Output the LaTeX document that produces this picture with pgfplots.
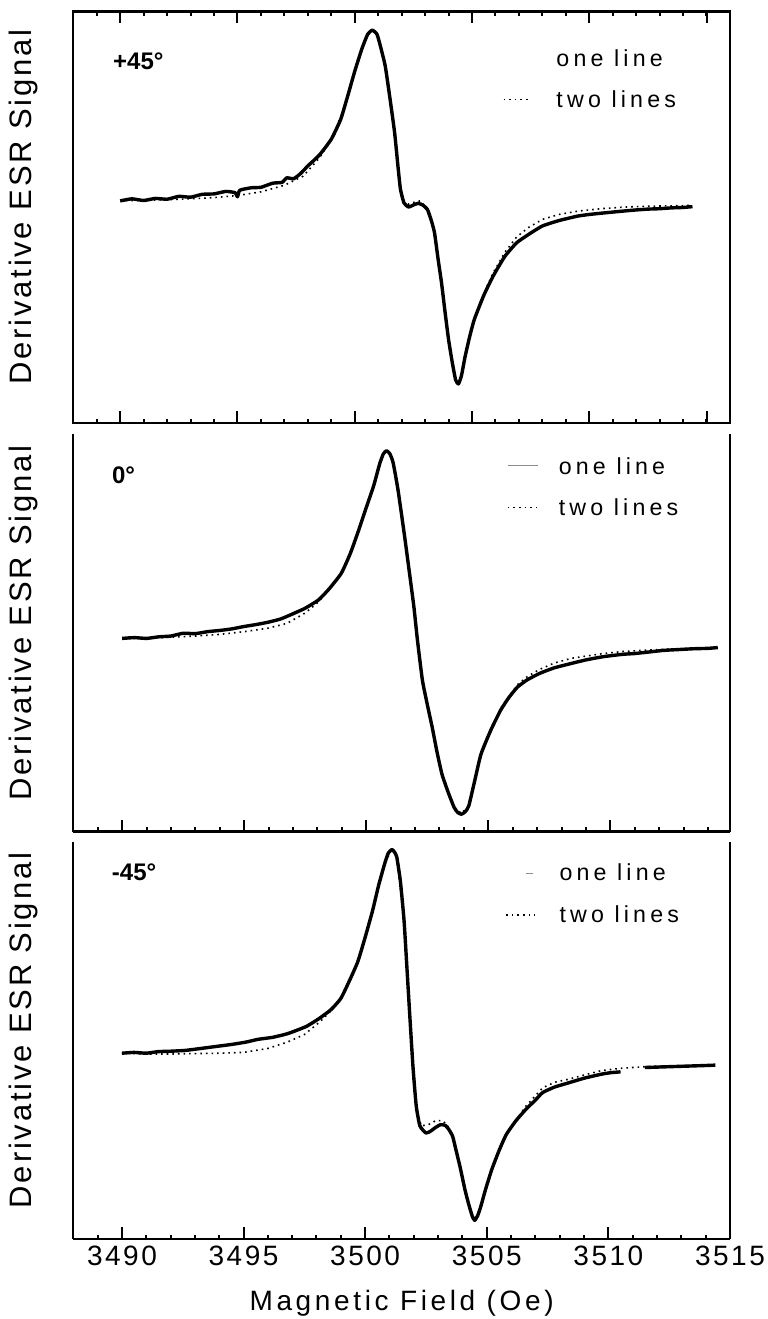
\documentclass[border=0pt]{standalone}
\usepackage{fontspec}
\setmainfont{Liberation Sans}
\newfontfamily\lblfont[LetterSpace=9]{Liberation Sans}
\newfontfamily\legfont[LetterSpace=18]{Liberation Sans}
\newfontfamily\tickfont[LetterSpace=9]{Liberation Sans}
\newfontfamily\xlblfont[LetterSpace=13]{Liberation Sans}
\usepackage{pgfplots}
\pgfplotsset{compat=1.18}

\tikzset{
  twofit/.style={black, line width=0.8pt, dash pattern=on 0.8pt off 2pt, mark=none},
  onefit/.style={black!45, line width=0.4pt, mark=none},
  leg/.style={anchor=base west, font=\legfont\fontsize{11.6}{13}\selectfont},
  ang/.style={anchor=west, font=\bfseries\fontsize{12}{14}\selectfont}
}
\pgfplotsset{
  esr/.style={scale only axis, width=328.35pt, xmin=3488, ymin=0, ymax=1,
    ytick=\empty, xtick={3490,3495,...,3515}, minor xtick={3489,...,3515},
    xticklabels={}, tick align=inside,
    major tick length=5.8pt, minor tick length=2.2pt,
    every tick/.style={line width=1pt, black},
    axis line style={line width=1.2pt},
    ylabel={\lblfont Derivative ESR Signal},
    ylabel style={font=\fontsize{15.5}{17}\selectfont, at={(axis description cs:-0.063,0.525)}, anchor=base},
    clip=false},
  meas/.style={black, line width=1.7pt, line join=round, no marks, smooth, tension=0.3}
}

\begin{document}
\begin{tikzpicture}
\useasboundingbox (0,0) rectangle (383.5pt,659.5pt);

% +45 deg
\begin{axis}[esr, at={(36.65pt,448pt)}, anchor=south west, height=205.65pt, xmax=3516, xtick pos=both]
\addplot[twofit] coordinates {(3490.0,0.541) (3491,0.541) (3492,0.543) (3493,0.545) (3494,0.548) (3495,0.553) (3496,0.562) (3497,0.578) (3497.8,0.600) (3498.5,0.645) (3499,0.688) (3499.5,0.76) (3500,0.853) (3500.3,0.91) (3500.55,0.947) (3500.75,0.957) (3500.95,0.946) (3501.3,0.868) (3501.7,0.706) (3501.95,0.568) (3502.1,0.540) (3502.3,0.532) (3502.6,0.538) (3502.8,0.540) (3503.0,0.526) (3503.2,0.50) (3503.4,0.463) (3503.7,0.341) (3504.0,0.203) (3504.3,0.105) (3504.42,0.097) (3504.55,0.115) (3504.9,0.21) (3505.1,0.252) (3505.5,0.315) (3505.9,0.365) (3506.4,0.415) (3506.9,0.452) (3507.4,0.475) (3508,0.495) (3508.7,0.507) (3509.5,0.515) (3510.5,0.521) (3511.5,0.525) (3512.5,0.527) (3513.5,0.528) (3514.4,0.529)};
\addplot[meas] coordinates {(3490.0,0.540) (3490.5,0.545) (3491.0,0.541) (3491.5,0.546) (3492.0,0.544) (3492.5,0.551) (3493.0,0.549) (3493.5,0.556) (3494.0,0.557) (3494.5,0.563) (3494.9,0.560) (3495.0,0.550) (3495.1,0.566) (3495.6,0.572) (3496.0,0.573) (3496.5,0.583) (3496.9,0.585) (3497.1,0.596) (3497.4,0.594) (3497.7,0.607) (3498.0,0.625) (3498.5,0.652) (3499.0,0.690) (3499.4,0.738) (3499.7,0.795) (3500.0,0.855) (3500.3,0.909) (3500.55,0.945) (3500.75,0.955) (3500.95,0.945) (3501.1,0.915) (3501.3,0.868) (3501.5,0.79) (3501.7,0.706) (3501.85,0.62) (3501.95,0.568) (3502.1,0.535) (3502.3,0.525) (3502.5,0.530) (3502.7,0.534) (3502.9,0.530) (3503.1,0.519) (3503.25,0.495) (3503.4,0.463) (3503.55,0.40) (3503.7,0.341) (3503.85,0.27) (3504.0,0.203) (3504.15,0.15) (3504.3,0.105) (3504.42,0.095) (3504.55,0.115) (3504.7,0.16) (3504.9,0.21) (3505.1,0.252) (3505.5,0.31) (3505.9,0.357) (3506.4,0.405) (3506.9,0.438) (3507.4,0.458) (3508.0,0.479) (3508.7,0.492) (3509.5,0.503) (3510.0,0.507) (3510.5,0.510) (3511.4,0.515) (3512.0,0.518) (3512.5,0.520) (3513.0,0.521) (3513.5,0.523) (3514.0,0.524) (3514.4,0.526)};
\node[ang] at (axis cs:3489.4,0.879) {+45°};
\node[leg] at (axis cs:3508.3,0.866) {one line};
\node[leg] at (axis cs:3508.3,0.766) {two lines};
\draw[twofit] (axis cs:3506.35,0.787) -- (axis cs:3507.5,0.787);
\end{axis}

% 0 deg
\begin{axis}[esr, at={(36.65pt,243.65pt)}, anchor=south west, height=198.85pt, xmax=3514.9,
  axis x line*=bottom, axis y line*=box]
\addplot[twofit] coordinates {(3490,0.486) (3491,0.487) (3492,0.489) (3493,0.492) (3494,0.496) (3495,0.503) (3496,0.512) (3496.76,0.524) (3497.5,0.550) (3498.05,0.578) (3498.98,0.648) (3499.7,0.76) (3500.3,0.869) (3500.7,0.95) (3500.83,0.960) (3500.97,0.951) (3501.1,0.928) (3501.57,0.743) (3501.95,0.566) (3502.3,0.381) (3502.7,0.263) (3503.1,0.145) (3503.6,0.061) (3503.9,0.046) (3504.2,0.065) (3504.7,0.195) (3505.5,0.31) (3506.2,0.37) (3506.6,0.39) (3507.1,0.408) (3507.7,0.424) (3508.4,0.436) (3509.7,0.448) (3510.5,0.453) (3511.6,0.457) (3512.5,0.459) (3513.5,0.461) (3514.4,0.463)};
\addplot[meas] coordinates {(3490.0,0.486) (3490.5,0.488) (3491,0.486) (3491.5,0.490) (3492,0.492) (3492.5,0.499) (3493,0.498) (3493.5,0.503) (3494,0.506) (3494.5,0.510) (3495,0.516) (3495.5,0.521) (3496,0.527) (3496.5,0.535) (3497,0.548) (3497.5,0.562) (3498.05,0.583) (3498.5,0.612) (3498.98,0.65) (3499.35,0.70) (3499.7,0.76) (3500.0,0.815) (3500.3,0.869) (3500.55,0.925) (3500.7,0.950) (3500.83,0.958) (3500.97,0.950) (3501.1,0.928) (3501.3,0.86) (3501.57,0.743) (3501.75,0.66) (3501.95,0.566) (3502.1,0.48) (3502.3,0.381) (3502.5,0.32) (3502.7,0.263) (3502.9,0.20) (3503.1,0.145) (3503.35,0.10) (3503.6,0.061) (3503.75,0.048) (3503.9,0.044) (3504.05,0.050) (3504.2,0.065) (3504.45,0.13) (3504.7,0.195) (3505.1,0.255) (3505.5,0.305) (3505.85,0.338) (3506.2,0.364) (3506.6,0.382) (3507.1,0.398) (3507.7,0.412) (3508.4,0.423) (3509,0.432) (3509.7,0.44) (3510.5,0.446) (3511,0.448) (3511.6,0.452) (3512.2,0.456) (3512.8,0.458) (3513.4,0.460) (3514.0,0.461) (3514.4,0.463)};
\node[ang] at (axis cs:3489.3,0.897) {0°};
\node[leg] at (axis cs:3507.6,0.897) {one line};
\node[leg] at (axis cs:3507.6,0.796) {two lines};
\draw[onefit] (axis cs:3505.8,0.922) -- (axis cs:3507.05,0.922);
\draw[twofit] (axis cs:3505.8,0.815) -- (axis cs:3507.0,0.815);
\end{axis}

% -45 deg
\begin{axis}[esr, at={(36.65pt,40pt)}, anchor=south west, height=198.5pt, xmax=3515,
  axis x line*=bottom, axis y line*=box,
  xticklabels={3490,3495,3500,3505,3510,3515},
  xticklabel style={font=\tickfont\fontsize{14}{16}\selectfont},
  /pgf/number format/assume math mode=true,
  xlabel={\xlblfont Magnetic Field (Oe)},
  xlabel style={font=\fontsize{14}{16}\selectfont, at={(axis description cs:0.5,0)}, anchor=center, yshift=-32pt}]
\addplot[twofit] coordinates {(3490,0.468) (3491,0.466) (3492,0.466) (3493,0.467) (3494,0.468) (3495,0.470) (3496,0.480) (3496.8,0.496) (3497.5,0.515) (3498.1,0.545) (3498.6,0.575) (3499,0.606) (3499.7,0.699) (3500.3,0.826) (3500.8,0.945) (3501.1,0.983) (3501.3,0.964) (3501.6,0.801) (3501.85,0.547) (3502.1,0.335) (3502.3,0.285) (3502.6,0.288) (3502.9,0.298) (3503.2,0.298) (3503.45,0.280) (3503.6,0.258) (3503.9,0.182) (3504.25,0.089) (3504.5,0.047) (3504.75,0.081) (3505.2,0.174) (3505.8,0.263) (3506.6,0.334) (3507.3,0.381) (3507.8,0.395) (3508.4,0.403) (3509.0,0.413) (3509.7,0.424) (3510.5,0.430) (3511.5,0.434) (3512.5,0.436) (3513.5,0.437) (3514.4,0.438)};
\addplot[meas] coordinates {(3490.0,0.468) (3490.5,0.470) (3491,0.468) (3491.5,0.472) (3492,0.473) (3492.6,0.475) (3493,0.478) (3493.5,0.482) (3494,0.486) (3494.5,0.490) (3495.1,0.496) (3495.6,0.503) (3496.2,0.508) (3496.8,0.517) (3497.2,0.526) (3497.6,0.536) (3498.1,0.555) (3498.6,0.578) (3499.0,0.606) (3499.35,0.65) (3499.7,0.699) (3500.0,0.76) (3500.3,0.826) (3500.55,0.89) (3500.8,0.945) (3500.95,0.972) (3501.1,0.981) (3501.2,0.975) (3501.3,0.962) (3501.45,0.90) (3501.6,0.801) (3501.72,0.68) (3501.85,0.547) (3501.97,0.43) (3502.1,0.335) (3502.25,0.285) (3502.5,0.267) (3502.7,0.272) (3502.87,0.28) (3503.1,0.288) (3503.3,0.286) (3503.45,0.275) (3503.6,0.258) (3503.75,0.22) (3503.9,0.182) (3504.1,0.125) (3504.25,0.089) (3504.4,0.058) (3504.5,0.047) (3504.62,0.058) (3504.75,0.081) (3504.95,0.125) (3505.2,0.174) (3505.5,0.222) (3505.8,0.263) (3506.2,0.298) (3506.6,0.326) (3507.0,0.350) (3507.3,0.369) (3507.8,0.383) (3508.4,0.394) (3509.0,0.405) (3509.7,0.415) (3510.1,0.419) (3510.5,0.421)};
\addplot[meas] coordinates {(3511.5,0.432) (3512,0.433) (3512.5,0.434) (3513,0.435) (3513.5,0.436) (3514,0.437) (3514.4,0.438)};
\node[ang] at (axis cs:3489.3,0.925) {-45°};
\node[leg] at (axis cs:3507.7,0.904) {one line};
\node[leg] at (axis cs:3507.7,0.798) {two lines};
\draw[onefit] (axis cs:3506.6,0.92) -- (axis cs:3506.9,0.92);
\draw[twofit] (axis cs:3505.8,0.816) -- (axis cs:3507.0,0.816);
\end{axis}
\end{tikzpicture}
\end{document}
